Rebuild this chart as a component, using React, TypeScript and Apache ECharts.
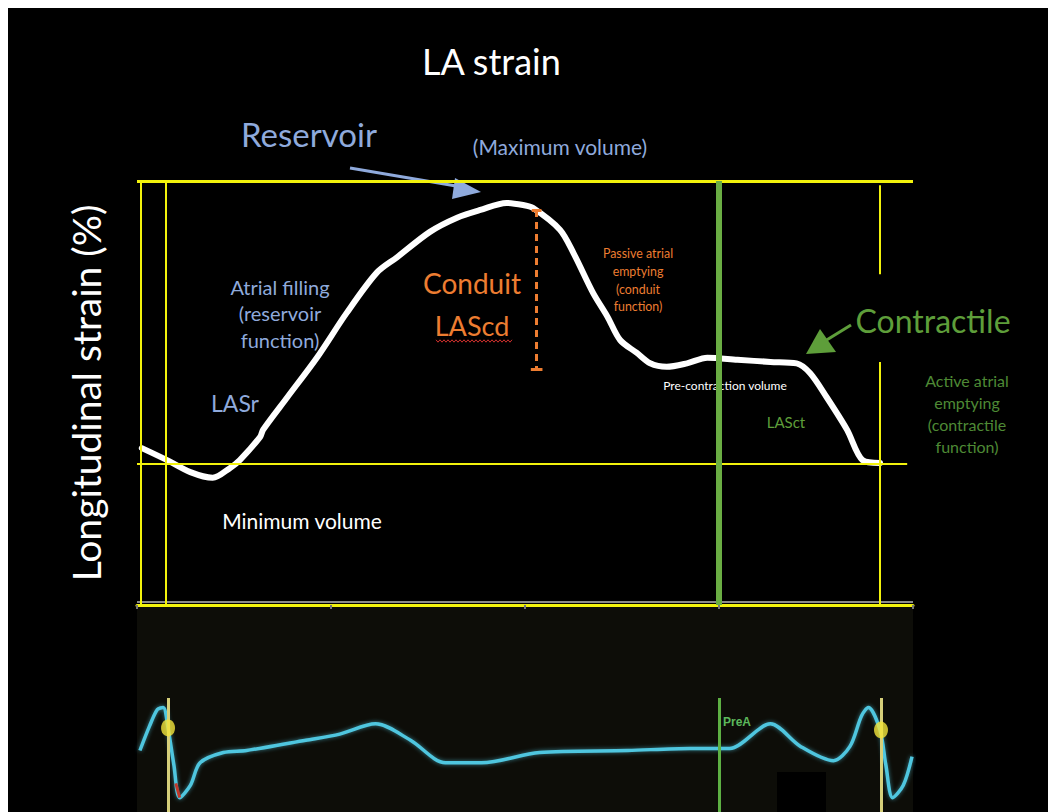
import React, { useEffect, useRef } from "react";
import * as echarts from "echarts";

// LA strain curve (time in ms, strain in %)
const strainTime = [5, 31, 55, 78, 96, 106, 127, 130, 155, 186, 216, 247, 268, 302, 330, 354, 381, 398, 408, 436, 450, 470, 485, 498, 515, 529, 546, 567, 588, 619, 653, 680, 694, 711, 732, 748, 766];
const strainValue = [2.2, 0.5, -1.2, -2.0, -0.6, 0.5, 3.8, 4.8, 9.4, 15.1, 21.3, 27.0, 29.2, 32.8, 34.8, 35.9, 36.9, 36.6, 36.2, 33.1, 29.8, 24.2, 20.8, 17.5, 15.7, 14.2, 13.7, 14.2, 15.0, 14.7, 14.4, 14.2, 12.8, 9.4, 4.8, 0.5, 0.1];

// ECG trace (time in ms, arbitrary amplitude)
const ecgTime = [3, 13, 21, 27, 32, 38, 44, 55, 65, 89, 113, 174, 209, 246, 282, 318, 355, 415, 506, 570, 596, 611, 653, 684, 718, 735, 747, 754, 766, 772, 779, 790, 799];
const ecgValue = [30, 42, 50, 51, 41, 23, 7, 13, 24, 29, 30, 35, 38, 43, 35, 24, 24, 29, 30, 31, 31, 31, 43, 32, 25, 32, 47, 51, 40, 23, 7, 13, 27];

// ECG markers (R-wave dots)
const ecgDotTime = [32, 767];
const ecgDotValue = [41, 40];

// time axis ticks
const timeTicks = [0, 200, 400, 600, 800];

// key markers
const frameStart = [4, 30];
const frameEnd = 766;
const preA = 600;
const conduitTime = 412;
const conduitTop = 35.9;
const conduitBottom = 13.4;

const YELLOW = "#F2F20C";
const BLUE = "#8FAADC";
const ORANGE = "#ED7D31";
const GREEN = "#5E9E3A";
const GREEN2 = "#4E8A35";
const FONT = "Lato";

export default function App() {
  const ref = useRef<HTMLDivElement>(null);
  useEffect(() => {
    if (!ref.current) return;
    const chart = echarts.init(ref.current, undefined, { renderer: "svg" });
    const strainData = strainTime.map((t, i) => [t, strainValue[i]]);
    const ecgData = ecgTime.map((t, i) => [t, ecgValue[i]]);
    const dotData = ecgDotTime.map((t, i) => [t, ecgDotValue[i]]);

    const vLine = (x: number, y1: number, y2: number, color: string, width: number, type: any = "solid") => [
      { coord: [x, y1], lineStyle: { color, width, type } },
      { coord: [x, y2] },
    ];
    const hLine = (y: number, x1: number, x2: number, color: string, width: number) => [
      { coord: [x1, y], lineStyle: { color, width, type: "solid" } },
      { coord: [x2, y] },
    ];

    // wavy underline (spell-check mark) under "LAScd"
    const wave: number[][] = [];
    for (let x = 436, k = 0; x <= 512; x += 2, k++) wave.push([x, 341 + (k % 2 === 0 ? -1.2 : 1.2)]);

    const txt = (text: string, x: number, y: number, color: string, size: number, align = "center", extra: any = {}) => ({
      type: "text",
      x,
      y,
      z: 1,
      style: { text, fill: color, font: `${size}px ${FONT}`, align, verticalAlign: "middle", ...extra },
    });

    chart.setOption({
      animation: false,
      backgroundColor: "#000",
      title: {
        text: "LA strain",
        left: 417,
        top: 38,
        textStyle: { color: "#fff", fontSize: 36, fontWeight: "normal", fontFamily: FONT },
      },
      grid: [
        { left: 137, right: 135, top: 181, height: 424 },
        { left: 137, right: 135, top: 607, height: 205, show: true, backgroundColor: "#0d0d08", borderWidth: 0 },
      ],
      xAxis: [
        {
          gridIndex: 0,
          type: "value",
          min: 0,
          max: 800,
          interval: 200,
          axisLine: { show: true, onZero: false, lineStyle: { color: YELLOW, width: 3 } },
          axisTick: { show: true, length: 4, lineStyle: { color: "#777", width: 2 } },
          axisLabel: { show: false },
          splitLine: { show: false },
        },
        { gridIndex: 1, type: "value", min: 0, max: 800, show: false },
      ],
      yAxis: [
        {
          gridIndex: 0,
          type: "value",
          min: -20,
          max: 40,
          name: "Longitudinal strain (%)",
          nameLocation: "middle",
          nameGap: 32,
          nameRotate: 90,
          nameTextStyle: { color: "#fff", fontSize: 39, fontFamily: FONT },
          axisLine: { show: false },
          axisTick: { show: false },
          axisLabel: { show: false },
          splitLine: { show: false },
        },
        { gridIndex: 1, type: "value", min: 0, max: 100, show: false },
      ],
      series: [
        {
          type: "line",
          xAxisIndex: 0,
          yAxisIndex: 0,
          data: [],
          z: 1,
          silent: true,
          markLine: {
            silent: true,
            symbol: ["none", "none"],
            label: { show: false },
            data: [
              hLine(40, 0, 800, YELLOW, 3),
              hLine(0, 0, 794, YELLOW, 2),
              hLine(-19.55, 0, 800, "#8a8a8a", 2),
              vLine(frameStart[0], 40, -20, YELLOW, 2),
              vLine(frameStart[1], 40, -20, YELLOW, 2),
              vLine(frameEnd, 39.4, 26.8, YELLOW, 2),
              vLine(frameEnd, 14.4, -20, YELLOW, 2),
              vLine(conduitTime, conduitTop, conduitBottom, ORANGE, 3, [7, 5]),
              hLine(conduitTop, conduitTime - 5, conduitTime + 5, ORANGE, 3),
              hLine(conduitBottom, conduitTime - 6, conduitTime + 6, ORANGE, 3),
            ],
          },
        },
        {
          type: "line",
          xAxisIndex: 0,
          yAxisIndex: 0,
          data: [],
          z: 4,
          silent: true,
          markLine: {
            silent: true,
            symbol: ["none", "none"],
            label: { show: false },
            data: [vLine(preA, 40, -20, "#6AAD43", 6)],
          },
        },
        {
          type: "line",
          xAxisIndex: 0,
          yAxisIndex: 0,
          data: strainData,
          smooth: 0.3,
          showSymbol: false,
          z: 3,
          lineStyle: { color: "#fff", width: 6, cap: "round", join: "round" },
        },
        {
          type: "line",
          xAxisIndex: 1,
          yAxisIndex: 1,
          data: [],
          z: 1,
          silent: true,
          markLine: {
            silent: true,
            symbol: ["none", "none"],
            label: { show: false },
            data: [
              vLine(ecgDotTime[0], 55.6, 0, "#D6CF7A", 3),
              vLine(preA, 55.6, 0, "#5DB043", 3),
              vLine(ecgDotTime[1], 55.6, 0, "#D6CF7A", 3),
            ],
          },
        },
        {
          type: "line",
          xAxisIndex: 1,
          yAxisIndex: 1,
          data: ecgData,
          smooth: 0.3,
          showSymbol: false,
          z: 3,
          lineStyle: { color: "#4FC6DF", width: 3.5, shadowColor: "rgba(79,198,223,0.6)", shadowBlur: 4 },
        },
        {
          type: "line",
          xAxisIndex: 1,
          yAxisIndex: 1,
          data: [[40, 14], [44, 7]],
          showSymbol: false,
          z: 4,
          lineStyle: { color: "#C0392B", width: 3 },
        },
        {
          type: "scatter",
          xAxisIndex: 1,
          yAxisIndex: 1,
          data: dotData,
          symbol: "circle",
          symbolSize: [14, 17],
          z: 5,
          itemStyle: { color: "#F3E43A" },
        },
      ],
      graphic: [
        { type: "rect", shape: { x: 0, y: 0, width: 1048, height: 8 }, style: { fill: "#fff" }, z: 0 },
        { type: "rect", shape: { x: 0, y: 0, width: 8, height: 812 }, style: { fill: "#fff" }, z: 0 },
        { type: "rect", shape: { x: 777, y: 772, width: 49, height: 40 }, style: { fill: "#000" }, z: 10 },
        txt("Reservoir", 309, 134, BLUE, 33),
        txt("(Maximum volume)", 560, 146, BLUE, 21),
        txt("Atrial filling", 280, 287, BLUE, 20),
        txt("(reservoir", 280, 313, BLUE, 20),
        txt("function)", 280, 340, BLUE, 20),
        txt("LASr", 235, 403, BLUE, 23),
        txt("Minimum volume", 302, 520, "#fff", 21),
        txt("Conduit", 472, 283, ORANGE, 28),
        txt("LAScd", 472, 325, ORANGE, 27),
        { type: "polyline", shape: { points: wave }, style: { stroke: "#D0312D", lineWidth: 1, fill: null }, z: 1 },
        txt("Passive atrial", 638, 253, ORANGE, 12.4),
        txt("emptying", 638, 271, ORANGE, 12.4),
        txt("(conduit", 638, 289, ORANGE, 12.4),
        txt("function)", 638, 306, ORANGE, 12.4),
        txt("Pre-contraction volume", 725, 385, "#fff", 12),
        txt("LASct", 786, 422, GREEN, 15),
        txt("Contractile", 933, 320, GREEN, 32),
        txt("Active atrial", 967, 380, GREEN2, 16),
        txt("emptying", 967, 402, GREEN2, 16),
        txt("(contractile", 967, 424, GREEN2, 16),
        txt("function)", 967, 446, GREEN2, 16),
        txt("PreA", 723, 722, "#5CB85C", 15, "left", { fontWeight: "bold" }),
        { type: "line", shape: { x1: 350, y1: 168, x2: 462, y2: 187 }, style: { stroke: BLUE, lineWidth: 3 }, z: 5 },
        { type: "polygon", shape: { points: [[455, 178], [481, 192], [452, 199]] }, style: { fill: BLUE }, z: 5 },
        { type: "line", shape: { x1: 851, y1: 325, x2: 825, y2: 341 }, style: { stroke: GREEN, lineWidth: 3 }, z: 5 },
        { type: "polygon", shape: { points: [[820, 329], [836, 352], [806, 354]] }, style: { fill: GREEN }, z: 5 },
      ],
    });
    return () => chart.dispose();
  }, []);
  return <div ref={ref} style={{ position: "absolute", left: 0, top: 0, width: 1048, height: 812 }} />;
}
